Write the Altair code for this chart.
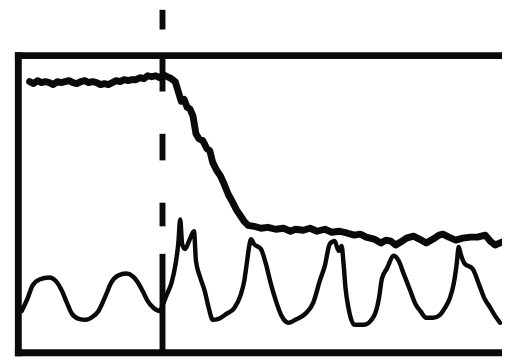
import altair as alt
import pandas as pd

# Upper trace (time position, level)
upper_t = [30, 34, 38, 42, 46, 50, 54, 58, 62, 66, 70, 74, 78, 82, 86, 90, 94, 98, 102, 106,
           110, 114, 118, 122, 126, 130, 134, 138, 142, 146, 150, 154, 158, 162, 166, 170, 174,
           178, 181, 184, 187, 190, 193, 196, 199, 202, 206, 210, 213, 216, 220, 224, 228, 232,
           236, 240, 244, 248, 252, 258, 265, 272, 280, 288, 295, 300, 308, 315, 322, 330, 337,
           345, 353, 360, 366, 372, 380, 387, 392, 397, 402, 407, 413, 420, 426, 433, 440, 446,
           450, 456, 463, 470, 478, 485, 493, 498, 503, 510]
upper_v = [80, 82, 79, 81, 80, 81, 83, 80, 81, 80, 79, 81, 82, 80, 79, 81, 80, 81, 83, 82,
           83, 81, 79, 80, 78, 79, 78, 78, 76, 77, 74, 75, 74, 76, 73, 75, 77,
           80, 90, 100, 98, 106, 108, 115, 133, 138, 140, 148, 150, 162, 170, 176, 185, 195,
           202, 210, 216, 222, 226, 227, 229, 228, 230, 229, 232, 230, 231, 229, 232, 230, 233,
           232, 234, 236, 235, 238, 240, 244, 241, 242, 246, 243, 239, 237, 240, 244, 240, 236,
           235, 238, 241, 239, 238, 238, 236, 242, 246, 243]

# Lower trace
lower_t = [22, 28, 33, 40, 50, 57, 62, 68, 73, 80, 87, 94, 100, 107, 113, 120, 128, 135, 140,
           145, 150, 156, 162, 166, 170, 174, 178, 181, 183, 185, 188, 192, 197, 199, 203, 208,
           212, 216, 222, 230, 238, 244, 248, 251, 253, 255, 258, 265, 270, 275, 280, 286, 293,
           300, 310, 318, 325, 330, 335, 340, 344, 347, 349, 351, 354, 360, 370, 380, 385, 388,
           393, 400, 405, 410, 417, 422, 427, 433, 440, 447, 452, 457, 461, 464, 466, 468, 472,
           480, 487, 492, 497, 503, 508]
lower_v = [313, 300, 287, 281, 279, 283, 291, 305, 316, 321, 322, 319, 313, 298, 284, 277, 275,
           278, 284, 293, 303, 310, 313, 305, 295, 285, 267, 245, 220, 245, 250, 242, 232, 262,
           278, 293, 310, 322, 321, 316, 310, 298, 283, 262, 248, 240, 245, 250, 265, 285, 302,
           318, 325, 322, 316, 305, 282, 267, 245, 242, 252, 247, 265, 290, 310, 327, 327, 318,
           300, 280, 270, 257, 262, 275, 293, 306, 313, 320, 320, 317, 310, 300, 285, 265, 248,
           255, 265, 270, 287, 300, 308, 318, 325]

# Vertical dashed marker
marker_t = 165
dash_from = [7, 57, 133, 203, 255]
dash_to = [27, 90, 160, 227, 355]

upper = pd.DataFrame({"t": upper_t, "v": upper_v, "i": list(range(len(upper_t)))})
lower = pd.DataFrame({"t": lower_t, "v": lower_v, "i": list(range(len(lower_t)))})
marker = pd.DataFrame({"t": [marker_t] * len(dash_from), "a": dash_from, "b": dash_to})

xs = alt.Scale(domain=[18, 510], nice=False, zero=False)
ys = alt.Scale(domain=[53, 355], reverse=True, nice=False, zero=False)

frame_kw = dict(domain=True, domainColor="#0a0a0a", domainWidth=7, domainCap="square",
                ticks=False, labels=False, grid=False)

ink = "#0a0a0a"

upper_line = alt.Chart(upper).mark_line(
    color=ink, strokeWidth=7, strokeJoin="round", strokeCap="round"
).encode(
    x=alt.X("t:Q", scale=xs, title="", axis=alt.Axis(orient="bottom", **frame_kw)),
    y=alt.Y("v:Q", scale=ys, title="", axis=alt.Axis(orient="left", **frame_kw)),
    order="i:Q",
)

lower_line = alt.Chart(lower).mark_line(
    color=ink, strokeWidth=4.5, strokeJoin="round", strokeCap="round", interpolate="monotone"
).encode(
    x=alt.X("t:Q", scale=xs, title="", axis=alt.Axis(orient="top", **frame_kw)),
    y=alt.Y("v:Q", scale=ys, axis=None),
    order="i:Q",
)

marker_rule = alt.Chart(marker).mark_rule(color=ink, strokeWidth=6).encode(
    x=alt.X("t:Q", scale=xs, axis=None),
    y=alt.Y("a:Q", scale=ys, axis=None),
    y2="b:Q",
)

chart = alt.layer(upper_line, lower_line, marker_rule).resolve_axis(
    x="independent", y="independent"
).properties(
    width=492,
    height=302,
    padding={"left": 10, "top": 45, "right": 0, "bottom": 4},
    autosize="none",
    background="white",
).configure_view(strokeWidth=0)

chart.save("out.html", embed_options={"renderer": "svg", "actions": False})
